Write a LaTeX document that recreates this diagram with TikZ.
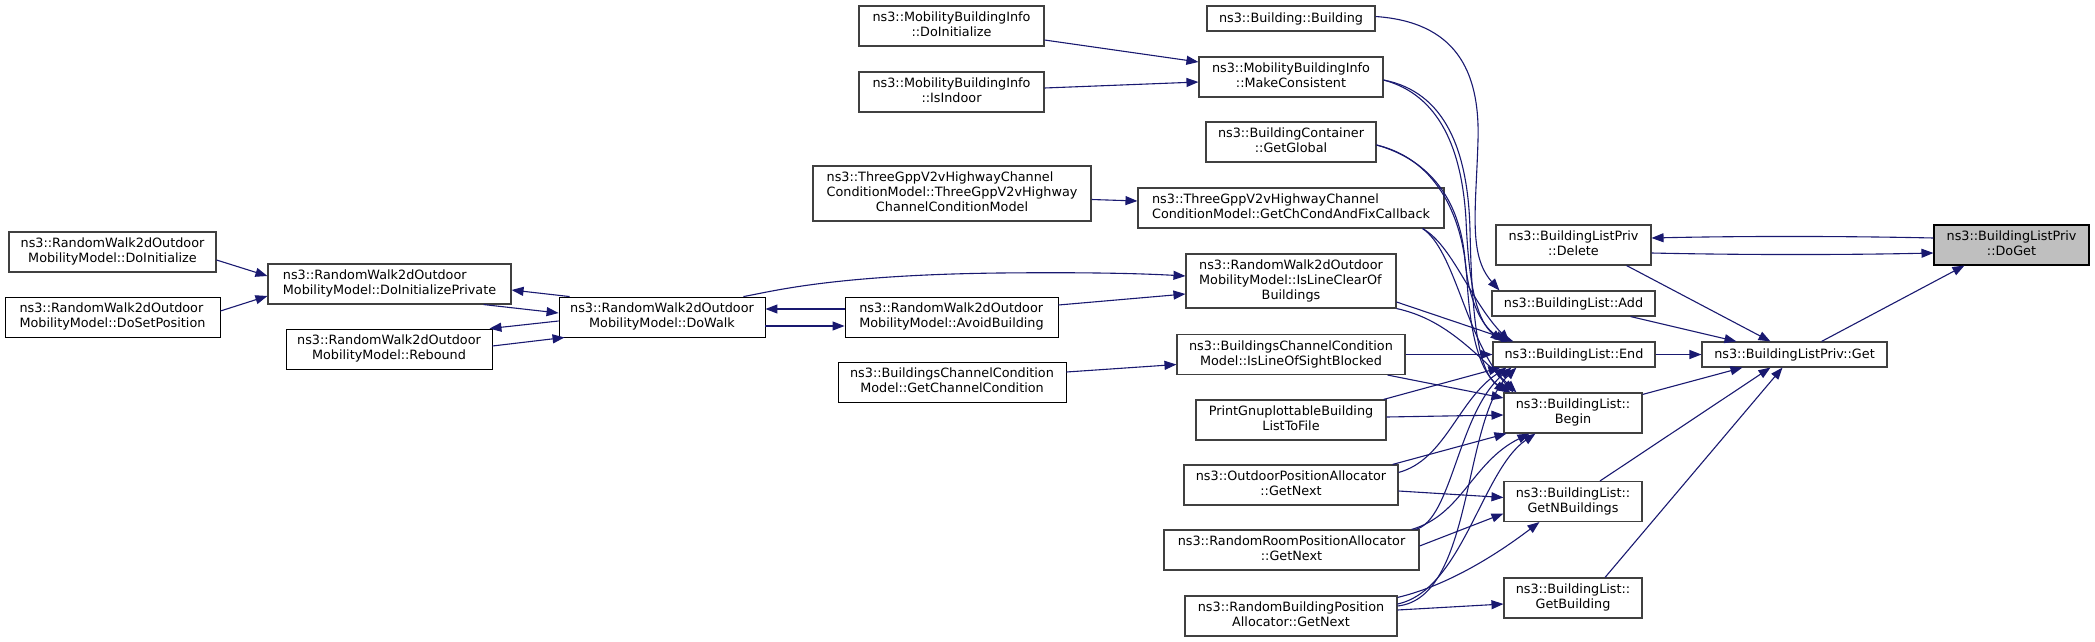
\documentclass[tikz,border=0pt]{standalone}
\usepackage{fontspec}
\setmainfont{DejaVu Sans}
\usetikzlibrary{arrows.meta,calc}
\definecolor{navyc}{HTML}{191970}
\definecolor{boxc}{HTML}{404040}
\definecolor{rootc}{HTML}{BFBFBF}
\newcommand{\twol}[2]{\begin{tabular}{@{}l@{}}#1\\\multicolumn{1}{@{}c@{}}{#2}\end{tabular}}
\newcommand{\threel}[3]{\begin{tabular}{@{}l@{}}#1\\#2\\\multicolumn{1}{@{}c@{}}{#3}\end{tabular}}
\begin{document}
\begin{tikzpicture}[x=1pt,y=-1pt,
  fn/.style={draw=boxc, line width=1.1pt, fill=white, rectangle, inner sep=0pt,
    font=\fontsize{12.8}{15}\selectfont},
  fk/.style={fn, draw=black, line width=0.9pt},
  root/.style={fn, draw=black, fill=rootc},
  cl/.style={draw=navyc, line width=1.1pt, -{Triangle[length=12pt,width=9pt]}}]
\useasboundingbox (0,0) rectangle (2095,642);
% column 1 (right)
\node[root, minimum width=155pt, minimum height=40pt] (doget) at (2011.5,245) {\twol{ns3::BuildingListPriv}{::DoGet}};
\node[fn, minimum width=185pt, minimum height=25pt] (get) at (1794.5,354.5) {ns3::BuildingListPriv::Get};
% column 2
\node[fn, minimum width=155pt, minimum height=40pt] (delete) at (1573.5,245) {\twol{ns3::BuildingListPriv}{::Delete}};
\node[fn, minimum width=163pt, minimum height=25pt] (add) at (1573.5,303.5) {ns3::BuildingList::Add};
\node[fn, minimum width=162pt, minimum height=25pt] (end) at (1574,354.5) {ns3::BuildingList::End};
\node[fn, minimum width=138pt, minimum height=40pt] (begin) at (1573,413) {\twol{ns3::BuildingList::}{Begin}};
\node[fn, minimum width=138pt, minimum height=40pt] (getn) at (1573,501.5) {\twol{ns3::BuildingList::}{GetNBuildings}};
\node[fn, minimum width=138pt, minimum height=40pt] (getb) at (1573,598) {\twol{ns3::BuildingList::}{GetBuilding}};
% column 3
\node[fn, minimum width=168pt, minimum height=25pt] (bb) at (1291,18.5) {ns3::Building::Building};
\node[fn, minimum width=184pt, minimum height=40pt] (mc) at (1291,77) {\twol{ns3::MobilityBuildingInfo}{::MakeConsistent}};
\node[fn, minimum width=170pt, minimum height=40pt] (gg) at (1291,142) {\twol{ns3::BuildingContainer}{::GetGlobal}};
\node[fn, minimum width=306pt, minimum height=40pt] (gcc) at (1291,208) {\twol{ns3::ThreeGppV2vHighwayChannel}{ConditionModel::GetChCondAndFixCallback}};
\node[fn, minimum width=210pt, minimum height=54pt] (icb) at (1291,281) {\threel{ns3::RandomWalk2dOutdoor}{MobilityModel::IsLineClearOf}{Buildings}};
\node[fn, minimum width=228pt, minimum height=40pt] (ilos) at (1291,354.5) {\twol{ns3::BuildingsChannelCondition}{Model::IsLineOfSightBlocked}};
\node[fn, minimum width=190pt, minimum height=40pt] (pg) at (1291,420) {\twol{PrintGnuplottableBuilding}{ListToFile}};
\node[fn, minimum width=214pt, minimum height=40pt] (opa) at (1291,485) {\twol{ns3::OutdoorPositionAllocator}{::GetNext}};
\node[fn, minimum width=255pt, minimum height=40pt] (rrpa) at (1291.5,550) {\twol{ns3::RandomRoomPositionAllocator}{::GetNext}};
\node[fn, minimum width=212pt, minimum height=40pt] (rbpa) at (1291,616) {\twol{ns3::RandomBuildingPosition}{Allocator::GetNext}};
% column 4
\node[fn, minimum width=185pt, minimum height=40pt] (mbidi) at (951.5,26) {\twol{ns3::MobilityBuildingInfo}{::DoInitialize}};
\node[fn, minimum width=185pt, minimum height=40pt] (mbii) at (951.5,92) {\twol{ns3::MobilityBuildingInfo}{::IsIndoor}};
\node[fn, minimum width=278pt, minimum height=55pt] (tgc) at (952,193.5) {\threel{ns3::ThreeGppV2vHighwayChannel}{ConditionModel::ThreeGppV2vHighway}{ChannelConditionModel}};
\node[fk, minimum width=213pt, minimum height=40pt] (ab) at (951.5,317) {\twol{ns3::RandomWalk2dOutdoor}{MobilityModel::AvoidBuilding}};
\node[fk, minimum width=228pt, minimum height=40pt] (gchc) at (952,382) {\twol{ns3::BuildingsChannelCondition}{Model::GetChannelCondition}};
% column 5
\node[fk, minimum width=206pt, minimum height=40pt] (dw) at (662,317) {\twol{ns3::RandomWalk2dOutdoor}{MobilityModel::DoWalk}};
% column 6
\node[fn, minimum width=243pt, minimum height=40pt] (dip) at (389.5,284) {\twol{ns3::RandomWalk2dOutdoor}{MobilityModel::DoInitializePrivate}};
\node[fk, minimum width=206pt, minimum height=40pt] (rb) at (389,349) {\twol{ns3::RandomWalk2dOutdoor}{MobilityModel::Rebound}};
% column 7
\node[fn, minimum width=207pt, minimum height=40pt] (di) at (112.5,252) {\twol{ns3::RandomWalk2dOutdoor}{MobilityModel::DoInitialize}};
\node[fk, minimum width=215pt, minimum height=40pt] (dsp) at (112.5,317) {\twol{ns3::RandomWalk2dOutdoor}{MobilityModel::DoSetPosition}};

% ---- edges, left part
\draw[cl] ($(di.east)+(0,8)$) -- ($(dip.west)+(0,-8)$);
\draw[cl] ($(dsp.east)+(0,-6)$) -- ($(dip.west)+(0,12)$);
\draw[cl] ($(dw.north west)+(11,0)$) -- ($(dip.east)+(0,6)$);
\draw[cl] ($(dip.south east)+(-28,0)$) -- ($(dw.west)+(0,-4)$);
\draw[cl] ($(dw.west)+(0,4)$) -- ($(rb.north east)+(-3,0)$);
\draw[cl] ($(rb.east)+(0,-3)$) -- ($(dw.south west)+(6,0)$);
\draw[cl] ($(dw.north east)+(-22,0)$) .. controls (770,292) and (830,275) .. (1000,273) .. controls (1100,272) and (1150,274) .. ($(icb.west)+(0,-5)$);
\draw[cl] ($(ab.west)+(0,-8)$) -- ($(dw.east)+(0,-8)$);
\draw[cl] ($(dw.east)+(0,9)$) -- ($(ab.west)+(0,9)$);
\draw[cl] ($(ab.east)+(0,-12)$) -- ($(icb.west)+(0,13)$);
\draw[cl] ($(tgc.east)+(0,6)$) -- ($(gcc.west)+(0,-7)$);
\draw[cl] ($(gchc.east)+(0,-10)$) -- ($(ilos.west)+(0,10)$);
\draw[cl] ($(mbidi.east)+(0,14)$) -- ($(mc.west)+(0,-15)$);
\draw[cl] ($(mbii.east)+(0,-4)$) -- ($(mc.west)+(0,5)$);

% ---- edges, right part
\draw[cl] ($(get.north)+(27,0)$) -- ($(doget.south west)+(31,0)$);
\draw[cl] ($(doget.west)+(0,-7)$) .. controls ($(doget.west)+(-90,-9)$) and ($(delete.east)+(90,-9)$) .. ($(delete.east)+(0,-7)$);
\draw[cl] ($(delete.east)+(0,8)$) .. controls ($(delete.east)+(90,10)$) and ($(doget.west)+(-90,10)$) .. ($(doget.west)+(0,8)$);
\draw[cl] ($(delete.south east)+(-25,0)$) -- ($(get.north)+(-24,0)$);
\draw[cl] ($(add.south east)+(-25,0)$) -- ($(get.north west)+(35,0)$);
\draw[cl] (end.east) -- (get.west);
\draw[cl] ($(begin.north east)+(0,2)$) -- ($(get.south west)+(41,0)$);
\draw[cl] ($(getn.north)+(27,0)$) -- ($(get.south)+(-24,0)$);
\draw[cl] ($(getb.north)+(32,0)$) -- ($(get.south)+(-12,0)$);

% ---- edges into the BuildingList column
\draw[cl] ($(bb.east)+(0,-2)$) .. controls (1455,22) and (1480,70) .. (1478,140) .. controls (1476,210) and (1468,255) .. ($(add.north west)+(8,0)$);
\draw[cl] ($(mc.east)+(0,3)$) .. controls (1440,95) and (1462,150) .. (1466,220) .. controls (1469,290) and (1478,322) .. ($(end.north west)+(10,0)$);
\draw[cl] ($(mc.east)+(0,3)$) .. controls (1445,92) and (1468,150) .. (1470,230) .. controls (1472,330) and (1480,372) .. ($(begin.north west)+(3,0)$);
\draw[cl] ($(gg.east)+(0,3)$) .. controls (1430,160) and (1460,200) .. (1465,260) .. controls (1469,305) and (1484,328) .. ($(end.north west)+(14,0)$);
\draw[cl] ($(gg.east)+(0,3)$) .. controls (1432,158) and (1463,210) .. (1467,280) .. controls (1471,350) and (1485,378) .. ($(begin.north west)+(7,0)$);
\draw[cl] ($(gcc.south east)+(-22,0)$) .. controls (1452,245) and (1470,300) .. ($(end.north west)+(17,0)$);
\draw[cl] ($(gcc.south east)+(-22,0)$) .. controls (1455,250) and (1466,340) .. ($(begin.north west)+(10,0)$);
\draw[cl] ($(icb.east)+(0,21)$) -- ($(end.north west)+(21,0)$);
\draw[cl] (icb.south east) .. controls (1440,318) and (1468,345) .. ($(begin.north west)+(13,0)$);
\draw[cl] (ilos.east) -- (end.west);
\draw[cl] ($(ilos.south east)+(-18,0)$) -- ($(begin.west)+(0,-15)$);
\draw[cl] ($(pg.north east)+(-3,0)$) -- ($(end.south west)+(8,0)$);
\draw[cl] ($(pg.east)+(0,-3)$) -- ($(begin.west)+(0,2)$);
\draw[cl] ($(opa.north east)+(-6,0)$) -- ($(begin.south west)+(3,0)$);
\draw[cl] ($(opa.north east)+(0,8)$) .. controls (1445,460) and (1458,400) .. ($(end.south west)+(14,0)$);
\draw[cl] ($(opa.east)+(0,6)$) -- ($(getn.west)+(0,-4)$);
\draw[cl] ($(rrpa.north east)+(-8,0)$) .. controls (1462,515) and (1472,462) .. ($(begin.south west)+(26,0)$);
\draw[cl] ($(rrpa.north east)+(-4,0)$) .. controls (1452,520) and (1458,412) .. ($(end.south west)+(19,0)$);
\draw[cl] ($(rrpa.east)+(0,-4)$) -- ($(getn.west)+(0,12)$);
\draw[cl] ($(rbpa.north east)+(0,2)$) .. controls (1450,585) and (1500,552) .. ($(getn.south west)+(36,0)$);
\draw[cl] ($(rbpa.east)+(0,-12)$) .. controls (1462,590) and (1482,470) .. ($(begin.south west)+(32,0)$);
\draw[cl] ($(rbpa.east)+(0,-10)$) .. controls (1474,598) and (1462,420) .. ($(end.south west)+(24,0)$);
\draw[cl] ($(rbpa.east)+(0,-6)$) -- ($(getb.west)+(0,6)$);
\end{tikzpicture}
\end{document}
